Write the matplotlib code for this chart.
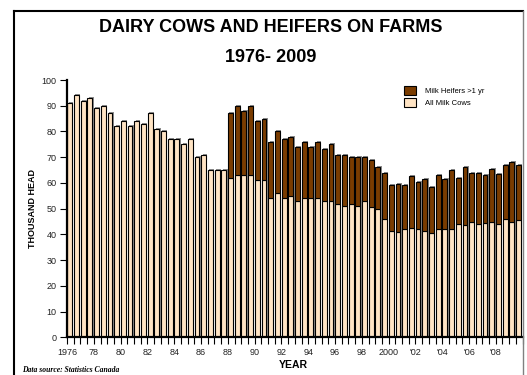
import numpy as np
import matplotlib
matplotlib.use("Agg")
import matplotlib.pyplot as plt
from matplotlib.patches import Patch
from matplotlib.lines import Line2D

plt.rcParams['font.family'] = ['Liberation Sans', 'DejaVu Sans']

# half-year observations, 1976 to 2009 (two bars per year)
cows = [91, 94, 92, 93, 89, 90, 87, 82, 84, 82, 84, 83,
        87, 81, 80, 77, 77, 75, 77, 70, 71, 65, 65, 65,
        62, 63, 63, 63, 61, 61, 54, 56, 54, 55, 53, 54,
        54, 54, 53, 53, 52, 51, 52, 51, 53, 50.5, 50, 46,
        41.5, 41, 42, 42.5, 42, 41.5, 40.5, 42, 42, 42, 44, 43.5,
        45, 44, 44.5, 45, 44, 46, 45, 45.5]

# heifer counts only reported from 1988 on (index 24)
heifer_start = 24
heifers = [25, 27, 25, 27, 23, 24, 22, 24, 23, 23, 21, 22,
           20, 22, 20, 22, 19, 20, 18, 19, 17, 18.5, 16, 18,
           17.5, 18.5, 17, 20, 18.5, 20, 18, 21, 19.5, 23, 18, 22.5,
           19, 20, 18.5, 20.5, 19.5, 21, 23, 21.5]

tick_labels = ['1976', '78', '80', '82', '84', '86', '88', '90', '92',
               '94', '96', '98', '2000', "'02", "'04", "'06", "'08"]

cow_color = '#FFE4C4'
heifer_color = '#7A3C00'
shadow = '#8c8c8c'

fig = plt.figure(figsize=(5.27, 3.75), dpi=100)
ax = fig.add_axes([66.5 / 527, 1 - 337.3 / 375, 456.5 / 527, 257.3 / 375])

x = np.arange(len(cows))
xh = x[heifer_start:]
totals = np.array(cows[heifer_start:]) + np.array(heifers)
w = 0.72

# gray drop shadow behind each bar
all_tops = np.array(cows, dtype=float)
all_tops[heifer_start:] = totals
ax.bar(x + 0.2, all_tops + 0.4, width=w, color=shadow, linewidth=0, zorder=1)

ax.bar(x, cows, width=w, color=cow_color, edgecolor='black', linewidth=0.8, zorder=2)
ax.bar(xh, heifers, bottom=cows[heifer_start:], width=w, color=heifer_color,
       edgecolor='black', linewidth=0.8, zorder=2)

ax.set_xlim(-0.48, 67.66)
ax.set_ylim(0, 100)
ax.set_yticks(range(0, 101, 10))
ax.tick_params(axis='y', labelsize=6.5, length=5, width=0.8, pad=2, labelcolor='#222222')

ax.set_xticks(np.arange(0, len(cows), 4) - 0.4)
ax.set_xticklabels(tick_labels)
ax.set_xticks(np.arange(0, len(cows) + 1) - 0.4, minor=True)
ax.tick_params(axis='x', which='both', labelsize=6.5, length=5, width=0.8, pad=3,
               labelcolor='#222222')

for side in ['top', 'right']:
    ax.spines[side].set_visible(False)
for side in ['left', 'bottom']:
    ax.spines[side].set_linewidth(1.6)

ax.set_ylabel('THOUSAND HEAD', fontsize=6.5, fontweight='bold')
ax.yaxis.set_label_coords(-0.0646, 0.5)
fig.text(293 / 527, 1 - 365 / 375, 'YEAR', ha='center', va='center',
         fontsize=7.5, fontweight='bold')

fig.text(271 / 527, 1 - 27 / 375, 'DAIRY COWS AND HEIFERS ON FARMS',
         ha='center', va='center', fontsize=13, fontweight='bold')
fig.text(271 / 527, 1 - 57 / 375, '1976- 2009',
         ha='center', va='center', fontsize=13, fontweight='bold')

fig.text(22 / 527, 1 - 370 / 375, 'Data source: Statistics Canada',
         ha='left', va='center', fontsize=5.5, fontweight='bold',
         fontstyle='italic', family='Liberation Serif')

handles = [Patch(facecolor=heifer_color, edgecolor='black', linewidth=0.8),
           Patch(facecolor=cow_color, edgecolor='black', linewidth=0.8)]
fig.legend(handles, ['Milk Heifers >1 yr', 'All Milk Cows'],
           loc='upper left', bbox_to_anchor=(404 / 527, 1 - 86 / 375),
           frameon=False, fontsize=5.5, handlelength=1.6, handleheight=1.5,
           labelspacing=0.35, handletextpad=1.2, borderpad=0, borderaxespad=0)

# outer frame of the original chart
fig.add_artist(Line2D([14 / 527, 14 / 527], [0, 1 - 10.5 / 375], color='black', linewidth=1.5))
fig.add_artist(Line2D([14 / 527, 523 / 527], [1 - 10.5 / 375, 1 - 10.5 / 375], color='black', linewidth=1.5))
fig.add_artist(Line2D([523 / 527, 523 / 527], [0, 1 - 10.5 / 375], color='gray', linewidth=1))

fig.savefig('out.png', dpi=100)
